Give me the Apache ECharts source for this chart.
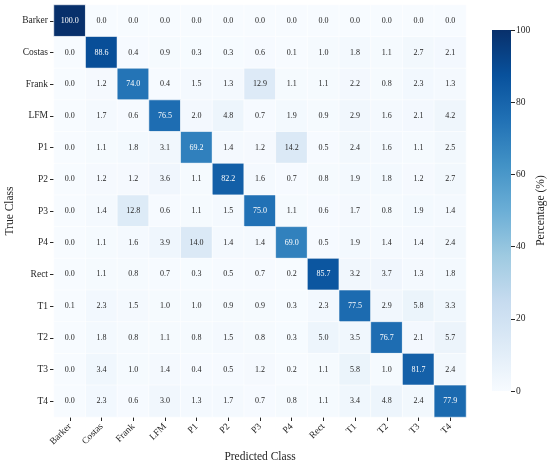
<!DOCTYPE html>
<html>
<head>
<meta charset="utf-8">
<script src="https://cdn.jsdelivr.net/npm/echarts@6/dist/echarts.min.js"></script>
<style>
  html, body { margin: 0; padding: 0; background: #fff; }
  #chart { width: 550px; height: 465px; }
</style>
</head>
<body>
<div id="chart"></div>
<script>
// class names, same order for true (rows) and predicted (columns)
const classes = ['Barker', 'Costas', 'Frank', 'LFM', 'P1', 'P2', 'P3', 'P4', 'Rect', 'T1', 'T2', 'T3', 'T4']

// confusion matrix in percent, one row per true class
const rowBarker = [100.0, 0.0, 0.0, 0.0, 0.0, 0.0, 0.0, 0.0, 0.0, 0.0, 0.0, 0.0, 0.0]
const rowCostas = [0.0, 88.6, 0.4, 0.9, 0.3, 0.3, 0.6, 0.1, 1.0, 1.8, 1.1, 2.7, 2.1]
const rowFrank = [0.0, 1.2, 74.0, 0.4, 1.5, 1.3, 12.9, 1.1, 1.1, 2.2, 0.8, 2.3, 1.3]
const rowLFM = [0.0, 1.7, 0.6, 76.5, 2.0, 4.8, 0.7, 1.9, 0.9, 2.9, 1.6, 2.1, 4.2]
const rowP1 = [0.0, 1.1, 1.8, 3.1, 69.2, 1.4, 1.2, 14.2, 0.5, 2.4, 1.6, 1.1, 2.5]
const rowP2 = [0.0, 1.2, 1.2, 3.6, 1.1, 82.2, 1.6, 0.7, 0.8, 1.9, 1.8, 1.2, 2.7]
const rowP3 = [0.0, 1.4, 12.8, 0.6, 1.1, 1.5, 75.0, 1.1, 0.6, 1.7, 0.8, 1.9, 1.4]
const rowP4 = [0.0, 1.1, 1.6, 3.9, 14.0, 1.4, 1.4, 69.0, 0.5, 1.9, 1.4, 1.4, 2.4]
const rowRect = [0.0, 1.1, 0.8, 0.7, 0.3, 0.5, 0.7, 0.2, 85.7, 3.2, 3.7, 1.3, 1.8]
const rowT1 = [0.1, 2.3, 1.5, 1.0, 1.0, 0.9, 0.9, 0.3, 2.3, 77.5, 2.9, 5.8, 3.3]
const rowT2 = [0.0, 1.8, 0.8, 1.1, 0.8, 1.5, 0.8, 0.3, 5.0, 3.5, 76.7, 2.1, 5.7]
const rowT3 = [0.0, 3.4, 1.0, 1.4, 0.4, 0.5, 1.2, 0.2, 1.1, 5.8, 1.0, 81.7, 2.4]
const rowT4 = [0.0, 2.3, 0.6, 3.0, 1.3, 1.7, 0.7, 0.8, 1.1, 3.4, 4.8, 2.4, 77.9]

const matrix = [rowBarker, rowCostas, rowFrank, rowLFM, rowP1, rowP2, rowP3,
  rowP4, rowRect, rowT1, rowT2, rowT3, rowT4]

// colorbar ticks
const barTicks = [0, 20, 40, 60, 80, 100]

const blues = ['#f7fbff', '#deebf7', '#c6dbef', '#9ecae1', '#6baed6',
  '#4292c6', '#2171b5', '#08519c', '#08306b']

const font = 'Liberation Serif'
const ink = '#262626'

const cells = []
matrix.forEach((row, r) => {
  row.forEach((v, c) => {
    cells.push({
      value: [c, r, v],
      label: { color: v > 50 ? '#fff' : ink }
    })
  })
})

// colorbar gradient, bottom (0) to top (100)
const barStops = blues.map((c, i) => ({ offset: i / (blues.length - 1), color: c }))

const chart = echarts.init(document.getElementById('chart'), null, { renderer: 'canvas' })

chart.setOption({
  animation: false,
  textStyle: { fontFamily: font },
  grid: [
    { left: 54, top: 5, width: 412, height: 412, outerBoundsMode: 'none', containLabel: false },
    { left: 492, top: 30, width: 19, height: 361, outerBoundsMode: 'none', containLabel: false }
  ],
  graphic: [{
    type: 'rect',
    left: 492,
    top: 30,
    z: 1,
    shape: { width: 19, height: 361 },
    style: { fill: new echarts.graphic.LinearGradient(0, 1, 0, 0, barStops) }
  }],
  xAxis: [{
    gridIndex: 0,
    type: 'category',
    data: classes,
    position: 'bottom',
    name: 'Predicted Class',
    nameLocation: 'middle',
    nameGap: 34,
    nameMoveOverlap: false,
    nameTextStyle: { fontFamily: font, fontSize: 11.5, color: ink },
    axisLine: { show: false },
    axisTick: { show: true, alignWithLabel: true, length: 4, lineStyle: { color: ink } },
    axisLabel: { rotate: 45, fontFamily: font, fontSize: 9.5, color: ink, margin: 8, interval: 0 },
    splitLine: { show: false }
  }, {
    gridIndex: 1,
    type: 'value',
    show: false,
    min: 0,
    max: 1
  }],
  yAxis: [{
    gridIndex: 0,
    type: 'category',
    data: classes,
    inverse: true,
    name: 'True Class',
    nameLocation: 'middle',
    nameGap: 38,
    nameMoveOverlap: false,
    nameTextStyle: { fontFamily: font, fontSize: 11.5, color: ink },
    axisLine: { show: false },
    axisTick: { show: true, alignWithLabel: true, length: 4, lineStyle: { color: ink } },
    axisLabel: { fontFamily: font, fontSize: 9.5, color: ink, margin: 6, interval: 0 },
    splitLine: { show: false }
  }, {
    gridIndex: 1,
    type: 'value',
    position: 'right',
    z: 5,
    min: barTicks[0],
    max: barTicks[barTicks.length - 1],
    interval: 20,
    name: 'Percentage (%)',
    nameLocation: 'middle',
    nameRotate: 90,
    nameGap: 24,
    nameMoveOverlap: false,
    nameTextStyle: { fontFamily: font, fontSize: 11.5, color: ink },
    // line kept on but invisible so ticks sit on the right edge
    axisLine: { show: true, onZero: false, lineStyle: { color: ink, opacity: 0 } },
    axisTick: { show: true, inside: false, length: 4, lineStyle: { color: ink, width: 1 } },
    axisLabel: { fontFamily: font, fontSize: 9.5, color: ink, margin: 5 },
    splitLine: { show: false }
  }],
  visualMap: {
    type: 'continuous',
    show: false,
    seriesIndex: 0,
    min: 0,
    max: 100,
    inRange: { color: blues }
  },
  series: [{
    type: 'heatmap',
    xAxisIndex: 0,
    yAxisIndex: 0,
    data: cells,
    itemStyle: { borderColor: '#fff', borderWidth: 0.6 },
    label: {
      show: true,
      fontFamily: font,
      fontSize: 8,
      formatter: p => p.value[2].toFixed(1)
    },
    emphasis: { disabled: true }
  }]
})
</script>
</body>
</html>
